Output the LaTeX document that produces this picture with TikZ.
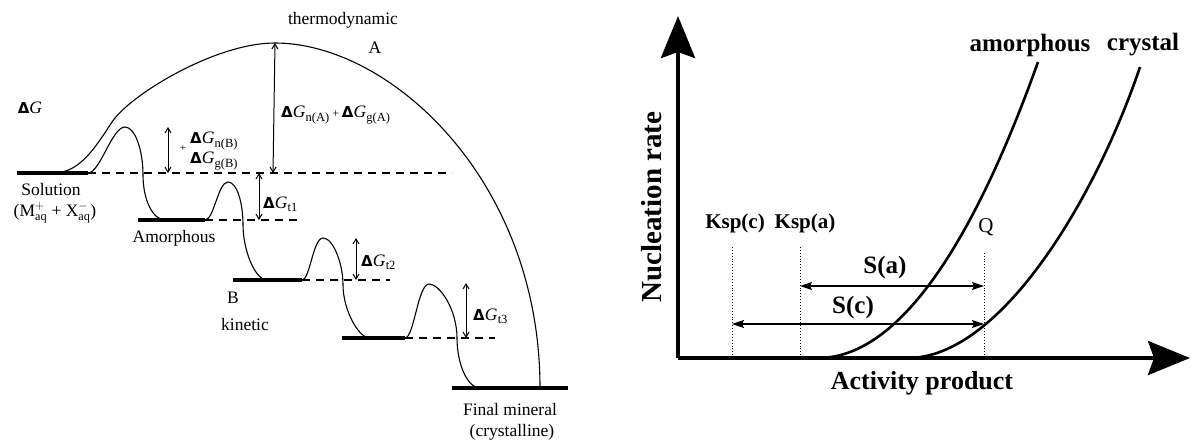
\documentclass[tikz,border=0pt]{standalone}
\usepackage{fontspec}
\setmainfont{Liberation Serif}
\newfontfamily\dvs{DejaVu Sans}
\usetikzlibrary{arrows.meta}
\newcommand\dG[1]{{\fontsize{15}{15}\dvs\bfseries Δ}\textit{G}\kern0.3pt\raisebox{-0.4ex}{\fontsize{12.5}{12.5}\selectfont #1}}
\begin{document}
\begin{tikzpicture}[x=1pt,y=-1pt,
  lvl/.style={line width=4.5pt},
  dsh/.style={line width=1.1pt, dash pattern=on 8pt off 6pt},
  crv/.style={line width=1.1pt},
  dimarr/.style={line width=1pt, {Straight Barb[length=5pt,width=6pt]}-{Straight Barb[length=5pt,width=6pt]}},
  lab/.style={font=\fontsize{17.5}{20}\selectfont, inner sep=0pt},
  blab/.style={font=\fontsize{25}{28}\selectfont\bfseries, inner sep=0pt},
  axis/.style={line width=4pt, -{Stealth[length=42pt,width=34pt,inset=6pt]}},
  rcrv/.style={line width=2.6pt},
  sarr/.style={line width=1.2pt, {Stealth[length=12pt,width=8pt,inset=2pt]}-{Stealth[length=12pt,width=8pt,inset=2pt]}},
  dotv/.style={line width=0.9pt, dotted}]
\useasboundingbox (0,0) rectangle (1197,440);

% ---------- left: energy levels ----------
\coordinate (s0) at (17,173);  \coordinate (s1) at (88,173);  \coordinate (sd) at (452,173);
\coordinate (a0) at (138,220); \coordinate (a1) at (205,220); \coordinate (ad) at (298,220);
\coordinate (b0) at (233,280); \coordinate (b1) at (302,280); \coordinate (bd) at (390,280);
\coordinate (c0) at (342,338); \coordinate (c1) at (405,338); \coordinate (cd) at (495,338);
\coordinate (f0) at (452,388); \coordinate (f1) at (568,388);
\coordinate (p1) at (125,127); \coordinate (p2) at (228,182);
\coordinate (p3) at (323,238); \coordinate (p4) at (429,284);
\coordinate (pk) at (275,43);

\draw[lvl] (s0) -- (s1);
\draw[lvl] (a0) -- (a1);
\draw[lvl] (b0) -- (b1);
\draw[lvl] (c0) -- (c1);
\draw[lvl] (f0) -- (f1);
\draw[dsh] (s1) -- (sd);
\draw[dsh] (a1) -- (ad);
\draw[dsh] (b1) -- (bd);
\draw[dsh] (c1) -- (cd);

% humps
\draw[crv] (s1) .. controls (100,173) and (112,127) .. (p1)
  .. controls (135,127) and (143,150) .. (143,175)
  .. controls (143,200) and (153,220) .. (165,220);
\draw[crv] (a1) .. controls (214,220) and (218,182) .. (p2)
  .. controls (237,182) and (243,203) .. (243,225)
  .. controls (243,250) and (255,280) .. (267,280);
\draw[crv] (b1) .. controls (310,280) and (313,238) .. (p3)
  .. controls (333,238) and (343,263) .. (343,285)
  .. controls (343,309) and (358,338) .. (370,338);
\draw[crv] (c1) .. controls (414,338) and (418,284) .. (p4)
  .. controls (440,284) and (457,310) .. (457,338)
  .. controls (457,365) and (468,388) .. (480,388);

% big thermodynamic arc
\coordinate (arc0) at (55,173);
\coordinate (arcm) at (112,122);
\coordinate (arc1) at (540,388);
\draw[crv] (arc0) .. controls (80,172) and (95,148) .. (arcm)
  .. controls (130,95) and (215,43) .. (pk)
  .. controls (390,43) and (540,180) .. (arc1);

% dimension arrows
\draw[dimarr] (pk) -- (273,173);
\draw[dimarr] (168,127) -- (168,173);
\draw[dimarr] (259,173) -- (259,220);
\draw[dimarr] (356,238) -- (356,280);
\draw[dimarr] (466,283) -- (466,338);

% labels
\node[lab] (ldg) at (30,108) {{\fontsize{15}{15}\dvs\bfseries Δ}\textit{G}};
\node[lab] (lthermo) at (343,20) {thermodynamic};
\node[lab] (lA) at (375,48) {A};
\node[lab, anchor=west] (lnA) at (281,115) {\dG{n(A)}\,{\fontsize{12}{12}\selectfont +}\,\dG{g(A)}};
\node[lab, font=\fontsize{11}{11}\selectfont] (lplus) at (183,148) {+};
\node[lab, anchor=west] (lnB) at (190,141) {\dG{n(B)}};
\node[lab, anchor=west] (lgB) at (190,161) {\dG{g(B)}};
\node[lab, anchor=west] (lt1) at (263,204) {\dG{t1}};
\node[lab, anchor=west] (lt2) at (361,262) {\dG{t2}};
\node[lab, anchor=west] (lt3) at (473,316) {\dG{t3}};
\node[lab] (lsol) at (51,190) {Solution};
\node[lab] (lion) at (55,213) {(M$^{+}_{\mathrm{aq}}$ + X$^{-}_{\mathrm{aq}}$)};
\node[lab] (lamo) at (174,238) {Amorphous};
\node[lab] (lB) at (233,298) {B};
\node[lab] (lkin) at (245,325) {kinetic};
\node[lab] (lfin) at (510,410) {Final mineral};
\node[lab] (lcry) at (512,432) {(crystalline)};

% ---------- right: nucleation plot ----------
\coordinate (o) at (678,358);
\coordinate (ytip) at (678,16);
\coordinate (xtip) at (1190,358);
\draw[axis] (o) -- (ytip);
\draw[axis] (o) -- (xtip);

\coordinate (kc) at (732,358); \coordinate (kct) at (732,245);
\coordinate (ka) at (800,358); \coordinate (kat) at (800,245);
\coordinate (q) at (984,358);  \coordinate (qt) at (984,253);
\draw[dotv] (kc) -- (kct);
\draw[dotv] (ka) -- (kat);
\draw[dotv] (q) -- (qt);

\coordinate (sa0) at (800,286); \coordinate (sa1) at (984,286);
\coordinate (sc0) at (732,324); \coordinate (sc1) at (984,324);
\draw[sarr] (sa0) -- (sa1);
\draw[sarr] (sc0) -- (sc1);

\coordinate (am0) at (818,358); \coordinate (am1) at (1038,62);
\coordinate (cr0) at (908,358); \coordinate (cr1) at (1140,67);
\draw[rcrv] (am0) .. controls (910,358) and (985,210) .. (am1);
\draw[rcrv] (cr0) .. controls (1000,358) and (1095,200) .. (cr1);

\node[blab, font=\fontsize{21}{24}\selectfont\bfseries] (lkc) at (735,223) {Ksp(c)};
\node[blab, font=\fontsize{21}{24}\selectfont\bfseries] (lka) at (805,223) {Ksp(a)};
\node[lab, font=\fontsize{21}{24}\selectfont] (lq) at (986,227) {Q};
\node[blab] (lsa) at (885,267) {S(a)};
\node[blab] (lsc) at (853,307) {S(c)};
\node[blab] (lamr) at (1030,45) {amorphous};
\node[blab] (lcrr) at (1143,45) {crystal};
\node[blab, font=\fontsize{29}{32}\selectfont\bfseries, rotate=90] (lnuc) at (652,207) {Nucleation rate};
\node[blab, font=\fontsize{26}{30}\selectfont\bfseries] (lact) at (922,383) {Activity product};
\end{tikzpicture}
\end{document}
